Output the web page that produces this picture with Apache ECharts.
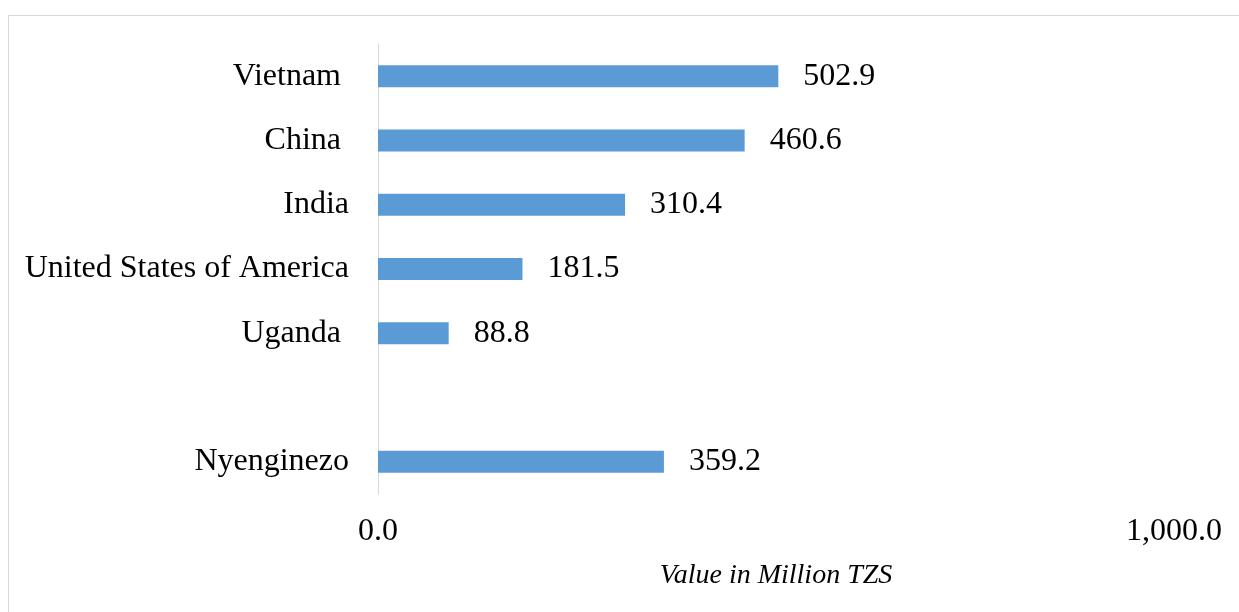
<!DOCTYPE html>
<html>
<head>
<meta charset="utf-8">
<script src="https://cdn.jsdelivr.net/npm/echarts@6/dist/echarts.min.js"></script>
<style>
  html, body { margin: 0; padding: 0; background: #fff; overflow: hidden; }
  #frame { position: absolute; left: 8px; top: 15px; width: 1300px; height: 700px; border: 1px solid #d9d9d9; }
  #echart { position: absolute; left: 0; top: 0; width: 1239px; height: 612px; }
</style>
</head>
<body>
<div id="frame"></div>
<div id="echart"></div>
<script>
// danh mục (từ trên xuống), có 1 dòng trống trước Nyenginezo
const countries = ['Vietnam ', 'China ', 'India', 'United States of America', 'Uganda ', '', 'Nyenginezo'];
const values = [502.9, 460.6, 310.4, 181.5, 88.8, null, 359.2];
const xTicks = ['0.0', '1,000.0'];
const axisTitle = 'Value in Million TZS';

const chart = echarts.init(document.getElementById('echart'));

const serif = '"Liberation Serif", "DejaVu Serif", serif';

const option = {
    animation: false,
    grid: { left: 378, right: 65, top: 44, bottom: 118 },
    xAxis: {
        type: 'value',
        min: 0,
        max: 1000,
        interval: 1000,
        splitLine: { show: false },
        axisLine: { show: false },
        axisTick: { show: false },
        axisLabel: {
            margin: 22,
            fontFamily: serif,
            fontSize: 32,
            color: '#000',
            formatter: function (v) { return v === 0 ? xTicks[0] : xTicks[1]; }
        },
        name: axisTitle,
        nameLocation: 'middle',
        nameGap: 68,
        nameTextStyle: { fontFamily: serif, fontSize: 28, fontStyle: 'italic', color: '#000' }
    },
    yAxis: {
        type: 'category',
        data: countries,
        inverse: true,
        axisLine: { show: true, lineStyle: { color: '#d9d9d9', width: 1 } },
        axisTick: { show: false },
        axisLabel: { margin: 29, fontFamily: serif, fontSize: 32, color: '#000' }
    },
    series: [
        {
            type: 'bar',
            data: values,
            barWidth: 22,
            itemStyle: { color: '#5b9bd5' },
            label: {
                show: true,
                position: 'right',
                distance: 25,
                fontFamily: serif,
                fontSize: 32,
                color: '#000',
                formatter: function (p) { return p.value.toFixed(1); }
            }
        }
    ]
};

chart.setOption(option);
</script>
</body>
</html>
